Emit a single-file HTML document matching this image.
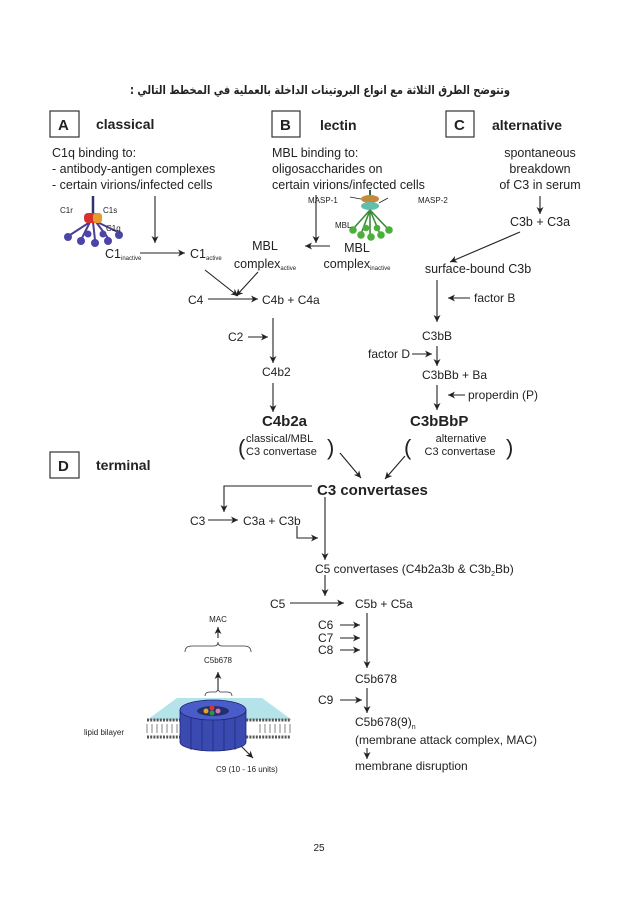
<!DOCTYPE html>
<html><head><meta charset="utf-8"><style>
body{margin:0;background:#fff}
svg{display:block}
text{font-family:"Liberation Sans",Arial,sans-serif;fill:#222}
</style></head><body>
<svg width="638" height="903" viewBox="0 0 638 903" xmlns="http://www.w3.org/2000/svg">
<defs>
<marker id="a" markerWidth="8" markerHeight="8" refX="7" refY="4" orient="auto" markerUnits="userSpaceOnUse"><path d="M0,0.5 L7,4 L0,7.5 L2,4 Z" fill="#222"/></marker>
</defs>
<text x="320" y="94" text-anchor="middle" font-size="12" font-weight="bold" textLength="380" lengthAdjust="spacingAndGlyphs" style="font-family:'DejaVu Sans',sans-serif" direction="rtl">وتتوضح الطرق الثلاثة مع انواع البروتينات الداخلة بالعملية في المخطط التالي :</text>

<g fill="none" stroke="#333" stroke-width="1.2">
<rect x="50" y="111" width="29" height="26"/><rect x="272" y="111" width="28" height="26"/><rect x="446" y="111" width="28" height="26"/><rect x="50" y="452" width="29" height="26"/>
</g>
<g font-weight="bold" font-size="15"><text x="58" y="130">A</text><text x="280" y="130">B</text><text x="454" y="130">C</text><text x="58" y="471">D</text></g>
<g font-weight="bold" font-size="14"><text x="96" y="129">classical</text><text x="320" y="130">lectin</text><text x="492" y="130">alternative</text><text x="96" y="470">terminal</text></g>

<g font-size="12.5">
<text x="52" y="157">C1q binding to:</text><text x="52" y="173">- antibody-antigen complexes</text><text x="52" y="189">- certain virions/infected cells</text>
<text x="272" y="157">MBL binding to:</text><text x="272" y="173">oligosaccharides on</text><text x="272" y="189">certain virions/infected cells</text>
<g text-anchor="middle"><text x="540" y="157">spontaneous</text><text x="540" y="173">breakdown</text><text x="540" y="189">of C3 in serum</text></g>
</g>

<g stroke="#222" stroke-width="1.1" fill="none" marker-end="url(#a)">
<path d="M155,196 V243"/><path d="M140,253 H185"/><path d="M316,195 V243"/><path d="M330,246 H305"/>
<path d="M540,196 V214"/><path d="M520,232 L450,262"/>
<path d="M205,270 L238,296"/><path d="M258,272 L236,296"/>
<path d="M208,299 H258"/><path d="M437,280 V322"/><path d="M470,298 H448"/>
<path d="M412,354 H432"/><path d="M437,346 V366"/><path d="M437,385 V410"/><path d="M465,395 H448"/>
<path d="M248,337 H268"/><path d="M273,318 V363"/><path d="M273,383 V412"/>
<path d="M340,453 L361,478"/><path d="M405,456 L385,479"/>
<path d="M312,486 H224 V512"/><path d="M208,520 H238"/><path d="M297,526 V538 H318"/><path d="M325,497 V560"/>
<path d="M290,603 H344"/><path d="M367,613 V668"/><path d="M340,625 H360"/><path d="M340,638 H360"/><path d="M340,650 H360"/>
<path d="M340,700 H362"/><path d="M367,688 V713"/><path d="M367,748 V759"/>
<path d="M218,638 V627"/><path d="M218,690 V672"/><path d="M240,745 L253,758"/>
</g>
<path d="M325,575 V596" stroke="#222" stroke-width="1.1" marker-end="url(#a)"/>

<!-- C1 icon -->
<g>
<line x1="93" y1="196" x2="93" y2="222" stroke="#33306e" stroke-width="2.5"/>
<g stroke="#4a3f95" stroke-width="2"><line x1="90" y1="222" x2="70" y2="235"/><line x1="90" y1="222" x2="82" y2="238"/><line x1="93" y1="222" x2="95" y2="240"/><line x1="96" y1="222" x2="108" y2="238"/><line x1="97" y1="222" x2="118" y2="232"/></g>
<rect x="84" y="213" width="18" height="10" rx="4" fill="#d8302a"/><rect x="93" y="213" width="9" height="10" rx="3" fill="#e89a2e"/>
<g fill="#4b45a8"><circle cx="68" cy="237" r="4"/><circle cx="81" cy="241" r="4"/><circle cx="95" cy="243" r="4"/><circle cx="108" cy="241" r="4"/><circle cx="119" cy="235" r="4"/><circle cx="88" cy="234" r="3.5"/><circle cx="103" cy="234" r="3.5"/></g>
<g font-size="8"><text x="60" y="213">C1r</text><text x="103" y="213">C1s</text><text x="106" y="231">C1q</text></g>
</g>
<g font-size="12.5"><text x="105" y="258">C1<tspan font-size="6" dy="2">inactive</tspan></text><text x="190" y="258">C1<tspan font-size="6" dy="2">active</tspan></text></g>

<!-- MBL icon -->
<g transform="translate(0,-6)">
<line x1="370" y1="196" x2="370" y2="220" stroke="#2f6b2f" stroke-width="2"/>
<ellipse cx="370" cy="205" rx="9" ry="4" fill="#c48a3c"/><ellipse cx="370" cy="212" rx="9" ry="4" fill="#5fbfae"/>
<g stroke="#3d8a3a" stroke-width="1.6"><line x1="370" y1="216" x2="353" y2="235"/><line x1="370" y1="216" x2="361" y2="240"/><line x1="370" y1="216" x2="370" y2="242"/><line x1="370" y1="216" x2="380" y2="240"/><line x1="370" y1="216" x2="388" y2="235"/></g>
<g fill="#4caf3c"><circle cx="353" cy="236" r="3.8"/><circle cx="361" cy="241" r="3.8"/><circle cx="371" cy="243" r="3.8"/><circle cx="381" cy="241" r="3.8"/><circle cx="389" cy="236" r="3.8"/><circle cx="366" cy="234" r="3.3"/><circle cx="377" cy="234" r="3.3"/></g>
<g font-size="8"><text x="308" y="209">MASP-1</text><text x="418" y="209">MASP-2</text><text x="335" y="234">MBL</text></g>
<g stroke="#222" stroke-width="0.8"><line x1="361" y1="205" x2="350" y2="203"/><line x1="379" y1="209" x2="388" y2="204"/></g>
</g>
<g font-size="12.5" text-anchor="middle">
<text x="265" y="250">MBL</text><text x="265" y="268">complex<tspan font-size="6" dy="2">active</tspan></text>
<text x="357" y="252">MBL</text><text x="357" y="268">complex<tspan font-size="6" dy="2">inactive</tspan></text>
<text x="540" y="226">C3b + C3a</text><text x="478" y="273">surface-bound C3b</text>
</g>
<g font-size="12">
<text x="188" y="304">C4</text><text x="262" y="304">C4b + C4a</text>
<text x="474" y="302">factor B</text><text x="422" y="340">C3bB</text>
<text x="368" y="358">factor D</text><text x="422" y="379">C3bBb + Ba</text><text x="468" y="399">properdin (P)</text>
<text x="228" y="341">C2</text><text x="262" y="376">C4b2</text>
</g>
<g font-weight="bold" font-size="15"><text x="262" y="426">C4b2a</text><text x="410" y="426">C3bBbP</text><text x="317" y="495">C3 convertases</text></g>
<g font-size="11">
<text x="246" y="442">classical/MBL</text><text x="246" y="455">C3 convertase</text>
<text x="461" y="442" text-anchor="middle">alternative</text><text x="460" y="455" text-anchor="middle">C3 convertase</text>
</g>
<g font-size="22" font-weight="300"><text x="238" y="455">(</text><text x="327" y="455">)</text><text x="404" y="455">(</text><text x="506" y="455">)</text></g>

<g font-size="12">
<text x="190" y="525">C3</text><text x="243" y="525">C3a + C3b</text>
<text x="315" y="573">C5 convertases (C4b2a3b &amp; C3b<tspan font-size="7" dy="3">2</tspan><tspan dy="-3">Bb)</tspan></text>
<text x="270" y="608">C5</text><text x="355" y="608">C5b + C5a</text>
<text x="318" y="629">C6</text><text x="318" y="642">C7</text><text x="318" y="654">C8</text>
<text x="355" y="683">C5b678</text><text x="318" y="704">C9</text>
<text x="355" y="726">C5b678(9)<tspan font-size="7" dy="3">n</tspan></text>
<text x="355" y="744">(membrane attack complex, MAC)</text>
<text x="355" y="770">membrane disruption</text>
</g>

<!-- MAC icon -->
<g>
<text x="218" y="622" font-size="8" text-anchor="middle">MAC</text>
<path d="M185,652 Q185,646 192,646 H214 Q218,646 218,642 Q218,646 222,646 H244 Q251,646 251,652" fill="none" stroke="#333" stroke-width="0.8"/>
<text x="218" y="663" font-size="8" text-anchor="middle">C5b678</text>
<path d="M205,696 Q205,692 210,692 H216 L218,690 L220,692 H227 Q232,692 232,696" fill="none" stroke="#333" stroke-width="0.8"/>
<polygon points="177,698 262,698 292,720 147,720" fill="#b4e3ea"/>
<rect x="147" y="720" width="143" height="18" fill="#fff"/>
<g stroke="#555" stroke-width="0.7" fill="#fff">
<line x1="147" y1="720" x2="290" y2="720" stroke-dasharray="2 1.2" stroke-width="3"/>
<line x1="147" y1="737" x2="290" y2="737" stroke-dasharray="2 1.2" stroke-width="3"/>
</g>
<path d="M147,724 V733 M152,724 V733 M157,724 V733 M162,724 V733 M167,724 V733 M172,724 V733 M177,724 V733 M260,724 V733 M265,724 V733 M270,724 V733 M275,724 V733 M280,724 V733 M285,724 V733 M290,724 V733" stroke="#666" stroke-width="0.8"/>
<path d="M180,710 V742 A33,9 0 0 0 246,742 V710 Z" fill="#3a4ab0" stroke="#1c2575" stroke-width="0.8"/>
<path d="M191,716 V750 M202,718 V751 M213,719 V751 M224,718 V751 M235,716 V750" stroke="#1c2575" stroke-width="0.7"/>
<ellipse cx="213" cy="710" rx="33" ry="10" fill="#4a5cc8" stroke="#1c2575" stroke-width="0.8"/>
<ellipse cx="213" cy="711" rx="16" ry="5" fill="#22306e"/>
<circle cx="206" cy="711" r="2.5" fill="#e8a020"/><circle cx="212" cy="708" r="2.5" fill="#d33"/><circle cx="212" cy="713" r="2.5" fill="#2a9a3a"/><circle cx="218" cy="711" r="2.5" fill="#e070b0"/>
<text x="84" y="735" font-size="8">lipid bilayer</text>
<text x="216" y="772" font-size="8">C9 (10 - 16 units)</text>
</g>

<text x="319" y="851" font-size="10" text-anchor="middle">25</text>
</svg>
</body></html>
